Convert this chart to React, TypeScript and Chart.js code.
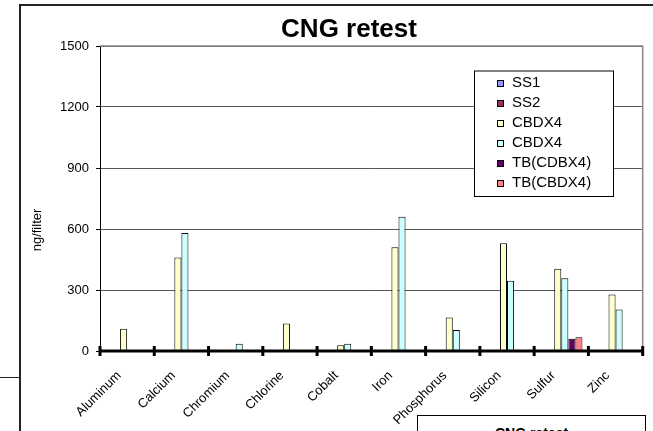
import React, { useEffect, useRef } from "react";
import { Chart, registerables } from "chart.js";

Chart.register(...registerables);

const categories = ["Aluminum", "Calcium", "Chromium", "Chlorine", "Cobalt", "Iron", "Phosphorus", "Silicon", "Sulfur", "Zinc"];
const ss1 = [0, 0, 0, 0, 0, 0, 0, 0, 0, 0];
const ss2 = [0, 0, 0, 0, 0, 0, 0, 0, 0, 0];
const cbdx4a = [110, 460, 0, 135, 28, 510, 165, 530, 405, 278];
const cbdx4b = [0, 580, 36, 0, 36, 660, 103, 345, 358, 204];
const tbCdbx4 = [0, 0, 0, 0, 0, 0, 0, 0, 60, 0];
const tbCbdx4 = [0, 0, 0, 0, 0, 0, 0, 0, 68, 0];
const yTicks = [0, 300, 600, 900, 1200, 1500];

const FONT = "'Liberation Sans', Arial, sans-serif";

const decorPlugin = {
  id: "decor",
  beforeDatasetsDraw(chart: any) {
    const { ctx, chartArea } = chart;
    ctx.save();
    ctx.strokeStyle = "#888";
    ctx.lineWidth = 1.5;
    ctx.beginPath();
    ctx.moveTo(chartArea.left, chartArea.top);
    ctx.lineTo(chartArea.right, chartArea.top);
    ctx.lineTo(chartArea.right, chartArea.bottom);
    ctx.stroke();
    // y axis title
    ctx.fillStyle = "#000";
    ctx.font = `13px ${FONT}`;
    ctx.textAlign = "center";
    ctx.textBaseline = "middle";
    ctx.translate(37, 230);
    ctx.rotate(-Math.PI / 2);
    ctx.fillText("ng/filter", 0, 0);
    ctx.restore();
  },
  afterDatasetsDraw(chart: any) {
    const { ctx, chartArea } = chart;
    const xs = chart.scales.x;
    const n = categories.length;
    const step = xs.getPixelForValue(1) - xs.getPixelForValue(0);
    ctx.save();
    // x axis line
    ctx.strokeStyle = "#000";
    ctx.lineWidth = 3;
    ctx.beginPath();
    ctx.moveTo(chartArea.left, chartArea.bottom);
    ctx.lineTo(chartArea.right, chartArea.bottom);
    ctx.stroke();
    for (let i = 0; i <= n; i++) {
      const x = xs.getPixelForValue(0) - step / 2 + i * step;
      ctx.beginPath();
      ctx.moveTo(x, chartArea.bottom - 5);
      ctx.lineTo(x, chartArea.bottom + 5);
      ctx.stroke();
    }
    // title
    ctx.fillStyle = "#000";
    ctx.font = `bold 26px ${FONT}`;
    ctx.textAlign = "center";
    ctx.textBaseline = "alphabetic";
    ctx.fillText("CNG retest", 349, 37);
    // legend
    const lx = 474, ly = 70.5, lw = 139, lh = 125.5;
    ctx.fillStyle = "#fff";
    ctx.fillRect(lx, ly, lw, lh);
    ctx.strokeStyle = "#000";
    ctx.lineWidth = 1;
    ctx.strokeRect(lx + 0.5, ly + 0.5, lw, lh);
    ctx.font = `15px ${FONT}`;
    ctx.textAlign = "left";
    chart.data.datasets.forEach((ds: any, i: number) => {
      const base = 87 + i * 20;
      ctx.fillStyle = ds.backgroundColor;
      ctx.fillRect(497, base - 7, 7, 7);
      ctx.strokeStyle = "#000";
      ctx.strokeRect(497.5, base - 6.5, 6, 6);
      ctx.fillStyle = "#000";
      ctx.fillText(ds.label, 512, base);
    });
    ctx.restore();
  },
};

export default function App() {
  const ref = useRef<HTMLCanvasElement>(null);
  useEffect(() => {
    document.body.style.margin = "0";
    const mk = (label: string, data: number[], color: string) => ({
      label,
      data,
      backgroundColor: color,
      borderColor: "#000",
      borderWidth: 1,
      barPercentage: 1,
      categoryPercentage: 0.78,
    });
    const chart = new Chart(ref.current as HTMLCanvasElement, {
      type: "bar",
      data: {
        labels: categories,
        datasets: [
          mk("SS1", ss1, "#9999FF"),
          mk("SS2", ss2, "#993366"),
          mk("CBDX4", cbdx4a, "#FFFFCC"),
          mk("CBDX4", cbdx4b, "#CCFFFF"),
          mk("TB(CDBX4)", tbCdbx4, "#660066"),
          mk("TB(CBDX4)", tbCbdx4, "#FF8080"),
        ],
      },
      options: {
        responsive: false,
        animation: false,
        devicePixelRatio: 1,
        layout: { padding: { left: 0, right: 10.3, top: 46, bottom: 0 } },
        plugins: { legend: { display: false }, title: { display: false }, tooltip: { enabled: false } },
        scales: {
          x: {
            grid: { display: false, drawTicks: false },
            border: { display: false },
            ticks: {
              minRotation: 45,
              maxRotation: 45,
              padding: 17,
              labelOffset: -8,
              color: "#000",
              font: { family: FONT, size: 13 },
            },
            afterFit(scale: any) {
              scale.height = 80;
            },
          },
          y: {
            min: 0,
            max: 1500,
            afterBuildTicks(scale: any) {
              scale.ticks = yTicks.map((v) => ({ value: v }));
            },
            grid: { color: "#555", lineWidth: 1, tickLength: 4, tickColor: "#000" },
            border: { display: true, color: "#000", width: 1 },
            ticks: {
              padding: 7,
              color: "#000",
              font: { family: FONT, size: 13 },
              callback: (v: any) => String(v),
            },
            afterFit(scale: any) {
              scale.width = 100;
            },
          },
        },
      },
      plugins: [decorPlugin],
    });
    return () => chart.destroy();
  }, []);

  return (
    <div style={{ position: "relative", width: 653, height: 431, overflow: "hidden", background: "#fff" }}>
      <div style={{ position: "absolute", left: 20, top: 4, width: 640, height: 0, borderTop: "2px solid #222" }} />
      <div style={{ position: "absolute", left: 19, top: 4, width: 0, height: 440, borderLeft: "2px solid #222" }} />
      <div style={{ position: "absolute", left: 0, top: 377, width: 20, height: 0, borderTop: "1px solid #222" }} />
      <div
        style={{
          position: "absolute",
          left: 417,
          top: 415,
          width: 229,
          height: 40,
          border: "1px solid #000",
          background: "#fff",
          textAlign: "center",
          fontFamily: FONT,
          fontWeight: "bold",
          fontSize: 14,
          paddingTop: 9,
          boxSizing: "border-box",
          lineHeight: "16px",
        }}
      >
        CNG retest
      </div>
      <canvas ref={ref} width={653} height={431} style={{ position: "absolute", left: 0, top: 0, display: "block" }} />
    </div>
  );
}
